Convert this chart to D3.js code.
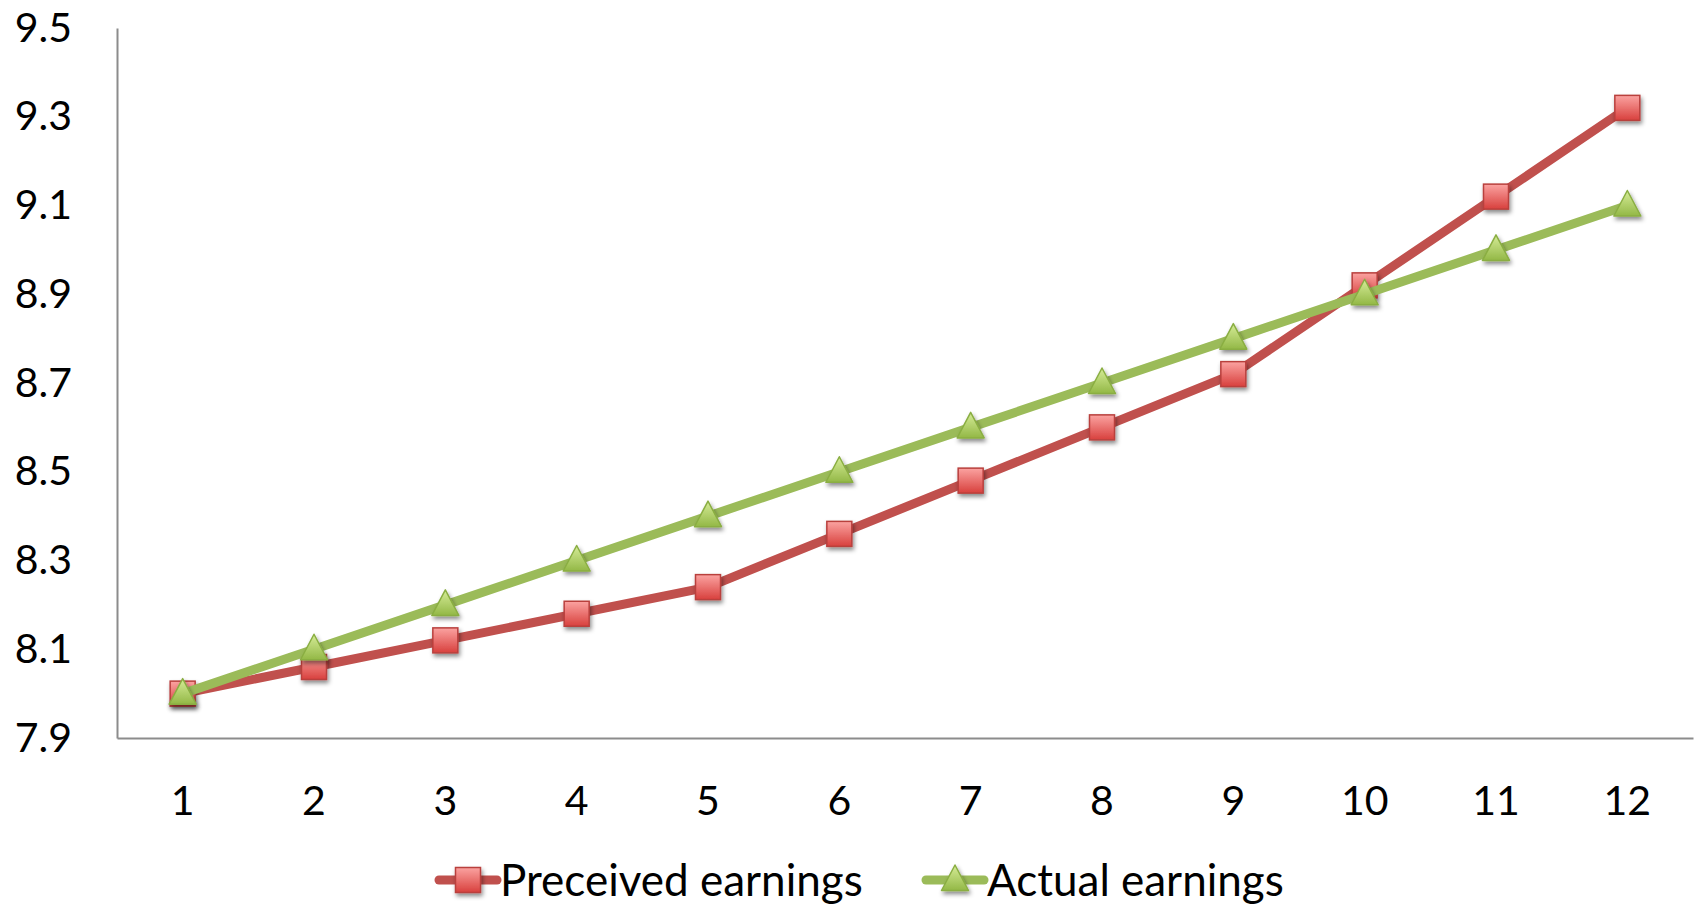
<!DOCTYPE html>
<html>
<head>
<meta charset="utf-8">
<script src="https://cdn.jsdelivr.net/npm/d3@7"></script>
<style>
  html, body { margin: 0; padding: 0; background: #fff; }
  svg { display: block; font-family: "Lato", "Liberation Sans", sans-serif; }
</style>
</head>
<body>
<div id="viz"></div>
<script>
const periods = [1, 2, 3, 4, 5, 6, 7, 8, 9, 10, 11, 12];
const perceived = [8.0, 8.06, 8.12, 8.18, 8.24, 8.36, 8.48, 8.6, 8.72, 8.92, 9.12, 9.32];
const actual = [8.0, 8.1, 8.2, 8.3, 8.4, 8.5, 8.6, 8.7, 8.8, 8.9, 9.0, 9.1];
const yTicks = [7.9, 8.1, 8.3, 8.5, 8.7, 8.9, 9.1, 9.3, 9.5];
const seriesNames = ["Preceived earnings", "Actual earnings"];

const WIDTH = 1698, HEIGHT = 909;
const FONT = 41;

const svg = d3.select("#viz").append("svg")
  .attr("width", WIDTH)
  .attr("height", HEIGHT)
  .attr("viewBox", `0 0 ${WIDTH} ${HEIGHT}`);

const defs = svg.append("defs");
const shadow = defs.append("filter").attr("id", "shadow")
  .attr("x", "-50%").attr("y", "-50%").attr("width", "200%").attr("height", "200%");
shadow.append("feDropShadow")
  .attr("dx", 1.5).attr("dy", 3).attr("stdDeviation", 2)
  .attr("flood-color", "#000").attr("flood-opacity", 0.45);

function grad(id, c0, c1) {
  const g = defs.append("linearGradient").attr("id", id)
    .attr("x1", 0).attr("y1", 0).attr("x2", 0).attr("y2", 1);
  g.append("stop").attr("offset", "0%").attr("stop-color", c0);
  g.append("stop").attr("offset", "100%").attr("stop-color", c1);
}
grad("redFill", "#FBA3A1", "#D8403D");
grad("greenFill", "#D6EC98", "#93B846");

const plotLeft = 117, plotRight = 1693, plotTop = 28, plotBottom = 738;

const x = d3.scaleBand().domain(periods).range([plotLeft, plotRight]);
const y = d3.scaleLinear().domain([7.9, 9.5]).range([plotBottom, plotTop]);
const cx = d => x(d) + x.bandwidth() / 2;

// axes
const yAxis = svg.append("g")
  .attr("transform", `translate(${plotLeft},0)`)
  .call(d3.axisLeft(y).tickValues(yTicks).tickSize(0).tickPadding(45).tickFormat(d3.format(".1f")));
const xAxis = svg.append("g")
  .attr("transform", `translate(0,${plotBottom})`)
  .call(d3.axisBottom(x).tickSize(0).tickPadding(48));

[yAxis, xAxis].forEach(a => {
  a.select(".domain").attr("stroke", "#8c8c8c").attr("stroke-width", 2);
  a.selectAll("text").attr("font-size", FONT).attr("fill", "#000")
    .attr("font-family", "Lato, 'Liberation Sans', sans-serif");
});

const series = [
  { name: seriesNames[0], values: perceived, line: "#C0504D", fill: "url(#redFill)", stroke: "#B9403D", shape: "square" },
  { name: seriesNames[1], values: actual, line: "#9BBB59", fill: "url(#greenFill)", stroke: "#8AAE42", shape: "triangle" }
];

const line = d3.line().x((d, i) => cx(periods[i])).y(d => y(d));

function marker(g, s, px, py) {
  if (s.shape === "square") {
    g.append("rect")
      .attr("x", px - 12.5).attr("y", py - 12.5)
      .attr("width", 25).attr("height", 25)
      .attr("fill", s.fill).attr("stroke", s.stroke).attr("stroke-width", 1.5)
      .attr("filter", "url(#shadow)");
  } else {
    g.append("path")
      .attr("d", `M${px},${py - 15}L${px + 13.5},${py + 10.5}L${px - 13.5},${py + 10.5}Z`)
      .attr("fill", s.fill).attr("stroke", s.stroke).attr("stroke-width", 1.5)
      .attr("stroke-linejoin", "round")
      .attr("filter", "url(#shadow)");
  }
}

series.forEach(s => {
  const g = svg.append("g");
  g.append("path")
    .datum(s.values)
    .attr("d", line)
    .attr("fill", "none")
    .attr("stroke", s.line)
    .attr("stroke-width", 9)
    .attr("stroke-linejoin", "round")
    .attr("stroke-linecap", "round");
  s.values.forEach((v, i) => marker(g, s, cx(periods[i]), y(v)));
});

// legend
const legendY = 880;
const legendX = [439, 926];
series.forEach((s, i) => {
  const g = svg.append("g");
  const x0 = legendX[i];
  g.append("line")
    .attr("x1", x0).attr("x2", x0 + 58)
    .attr("y1", legendY).attr("y2", legendY)
    .attr("stroke", s.line).attr("stroke-width", 9).attr("stroke-linecap", "round");
  marker(g, s, x0 + 29, legendY);
  g.append("text")
    .attr("x", x0 + 61)
    .attr("y", legendY)
    .attr("dy", "0.36em")
    .attr("font-size", 44)
    .attr("fill", "#000")
    .text(s.name);
});
</script>
</body>
</html>
